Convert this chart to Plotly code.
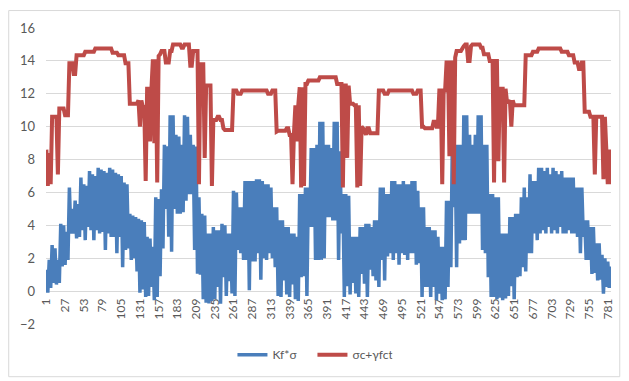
import plotly.graph_objects as go

# category tick labels shown on the x axis
tick_labels = [1, 27, 53, 79, 105, 131, 157, 183, 209, 235, 261, 287, 313, 339, 365,
               391, 417, 443, 469, 495, 521, 547, 573, 599, 625, 651, 677, 703, 729, 755, 781]

# sample positions (every second category)
x_vals = list(range(1, 786, 2))

# series "Kf*σ"
kf_sigma = [
    1.3, -0.1, 1.9, 0.2, 2.8, 0.5, 2.6, 0.4, 1.9, 0.5,
    4.1, 1.5, 4.0, 1.6, 3.6, 1.9, 6.3, 3.5, 5.0, 3.5,
    5.5, 3.2, 5.3, 3.3, 6.9, 3.7, 6.5, 3.1, 6.4, 3.9,
    7.3, 3.7, 7.1, 3.1, 7.0, 3.7, 7.5, 3.5, 7.4, 3.6,
    7.3, 2.5, 7.2, 3.5, 7.5, 3.3, 7.4, 3.3, 7.2, 2.3,
    7.1, 3.3, 7.0, 1.45, 6.6, 2.5, 6.5, 2.6, 4.7, 1.9,
    4.6, 2.0, 4.5, 1.2, 4.4, -0.1, 4.3, 0.1, 4.2, -0.35,
    3.3, -0.3, 3.2, 0.25, 2.7, -0.56, 5.7, -0.35, 5.6, 0.9,
    6.2, 2.6, 8.9, 5.0, 8.8, 3.3, 10.7, 2.4, 10.7, 5.0,
    9.5, 4.7, 9.4, 4.7, 8.9, 4.8, 10.7, 5.5, 10.6, 5.9,
    9.5, 5.9, 8.9, 2.5, 8.8, 1.05, 5.7, 1.0, 4.7, -0.5,
    4.6, -0.7, 3.5, -0.75, 3.5, -0.6, 3.9, -0.5, 3.7, 0.25,
    3.7, -0.76, 4.1, 0.85, 4.0, -0.3, 3.5, 0.6, 3.5, -0.15,
    6.1, -0.3, 6.0, 2.5, 5.1, 2.3, 5.1, 1.9, 6.7, 1.9,
    6.7, 0.05, 6.7, 1.8, 6.7, 1.8, 6.8, 2.3, 6.8, 0.7,
    6.7, 2.0, 6.5, 1.9, 6.5, 2.3, 6.3, 2.0, 5.1, 1.45,
    5.1, -0.3, 4.3, -0.35, 4.3, 0.65, 3.9, -0.2, 3.9, -0.35,
    3.5, 0.4, 3.5, -0.5, 3.3, -0.6, 5.9, 0.85, 5.9, 0.9,
    6.3, -0.3, 6.3, 3.9, 8.7, 3.9, 8.7, 1.9, 8.9, 1.9,
    10.3, 1.9, 10.3, 2.0, 8.9, 4.5, 8.9, 4.5, 8.7, 4.3,
    10.3, 4.3, 10.3, 1.9, 8.5, 3.5, 5.9, -0.35, 5.9, 0.3,
    5.8, -0.2, 3.3, 0.5, 3.3, -0.15, 3.3, -0.35, 3.9, 1.05,
    3.9, 0.45, 4.1, -0.35, 4.1, 1.3, 3.9, 0.9, 4.3, 0.65,
    4.3, 0.25, 6.3, 1.9, 6.3, 0.65, 5.9, 2.1, 5.9, 2.3,
    6.7, 1.9, 6.7, 2.3, 6.5, 1.6, 6.5, 2.3, 6.7, 2.2,
    6.5, 1.9, 6.5, 2.3, 6.7, 2.3, 6.7, 1.6, 6.1, 1.7,
    5.1, -0.35, 5.1, 0.25, 3.9, 0.25, 3.9, -0.35, 3.7, 0.25,
    3.7, -0.56, 3.3, -0.15, 2.7, -0.56, 2.7, -0.5, 5.5, 0.25,
    5.5, 1.45, 8.9, 5.1, 8.9, 1.45, 8.9, 2.9, 8.9, 3.1,
    10.7, 3.1, 10.7, 4.7, 9.5, 4.7, 8.9, 4.7, 9.5, 4.7,
    10.7, 4.7, 10.7, 2.5, 8.9, 2.3, 8.9, 0.85, 5.9, -0.35,
    5.9, -0.35, 5.7, -0.5, 5.7, -0.4, 3.5, -0.56, 3.5, -0.45,
    3.5, -0.3, 4.5, 0.3, 4.5, -0.5, 4.7, 0.85, 4.7, 0.9,
    5.7, 1.45, 6.3, 1.2, 5.7, 2.3, 7.1, 2.3, 6.7, 3.5,
    6.7, 3.1, 7.5, 3.5, 7.5, 3.7, 7.3, 3.5, 7.5, 3.9,
    7.1, 3.5, 7.5, 3.7, 7.3, 3.5, 7.1, 3.9, 7.3, 3.5,
    6.9, 3.5, 6.9, 3.7, 6.9, 3.5, 6.9, 3.5, 6.3, 3.3,
    6.3, 2.3, 6.3, 3.3, 4.3, 1.9, 4.3, 1.9, 3.9, 1.05,
    3.9, 1.1, 2.9, 0.65, 2.9, 0.7, 2.2, -0.15, 2.0, 0.25,
    1.8, 0.2, 1.5,
]

# series "σc+γfct"
sc_gfct = [
    8.6, 6.4, 8.4, 6.5, 10.6, 10.6, 10.6, 10.6, 7.1, 11.1,
    11.1, 11.1, 11.1, 10.7, 10.7, 10.7, 13.85, 13.85, 13.85, 13.2,
    13.2, 14.35, 14.35, 14.35, 14.35, 14.35, 14.35, 14.55, 14.55, 14.55,
    14.55, 14.55, 14.55, 14.55, 14.75, 14.75, 14.75, 14.75, 14.75, 14.75,
    14.75, 14.75, 14.75, 14.75, 14.75, 14.75, 14.5, 14.5, 14.5, 14.5,
    14.35, 14.35, 14.35, 14.35, 14.35, 13.85, 13.85, 13.85, 11.4, 11.4,
    11.4, 11.4, 11.4, 11.4, 11.6, 10.0, 11.6, 11.2, 11.2, 6.7,
    12.3, 12.3, 9.1, 12.3, 14.1, 9.0, 14.1, 6.6, 14.3, 14.4,
    14.6, 14.6, 14.6, 13.9, 13.9, 13.9, 14.6, 14.6, 15.0, 15.0,
    15.0, 15.0, 15.0, 15.0, 14.8, 14.8, 15.0, 15.0, 15.0, 15.0,
    13.7, 13.7, 14.6, 14.6, 14.6, 14.6, 6.5, 13.8, 13.8, 13.8,
    8.1, 12.5, 12.5, 12.5, 12.5, 6.4, 10.4, 10.4, 10.4, 10.6,
    10.6, 10.4, 10.4, 9.9, 9.8, 9.8, 9.8, 9.8, 9.8, 9.8,
    12.2, 12.2, 12.2, 12.0, 12.0, 12.0, 12.2, 12.2, 12.2, 12.2,
    12.2, 12.2, 12.2, 12.2, 12.2, 12.2, 12.2, 12.2, 12.2, 12.2,
    12.2, 12.2, 12.2, 12.2, 12.0, 12.0, 12.0, 12.2, 12.2, 12.2,
    9.7, 9.75, 9.75, 9.75, 9.75, 9.75, 9.75, 9.9, 9.9, 9.5,
    9.5, 6.5, 9.6, 11.3, 9.1, 11.3, 12.4, 6.3, 12.4, 6.4,
    12.6, 12.6, 12.8, 12.8, 12.8, 12.8, 12.8, 12.8, 12.8, 12.8,
    13.0, 13.0, 13.0, 13.0, 13.0, 13.0, 13.0, 13.0, 13.0, 13.0,
    13.0, 13.0, 12.6, 12.6, 12.6, 12.6, 6.3, 12.5, 12.5, 8.1,
    12.5, 11.4, 11.4, 11.4, 11.3, 11.3, 6.3, 11.3, 6.4, 10.0,
    9.9, 9.8, 9.5, 9.9, 9.9, 9.6, 9.6, 9.6, 9.6, 9.6,
    9.6, 12.2, 12.2, 12.2, 12.2, 12.0, 12.0, 12.0, 12.2, 12.2,
    12.2, 12.2, 12.2, 12.2, 12.2, 12.2, 12.2, 12.2, 12.2, 12.2,
    12.2, 12.2, 12.2, 12.2, 12.2, 12.0, 12.0, 12.0, 12.2, 12.2,
    12.2, 10.0, 10.0, 9.9, 9.9, 9.9, 9.9, 9.9, 9.9, 10.3,
    10.3, 10.0, 10.0, 12.2, 12.2, 6.5, 12.2, 12.2, 13.9, 13.9,
    8.2, 13.9, 13.9, 6.5, 14.2, 14.6, 14.6, 14.6, 14.6, 14.75,
    14.9, 15.0, 15.0, 14.0, 14.0, 14.9, 15.0, 15.0, 15.0, 15.0,
    15.0, 15.0, 14.8, 14.8, 14.4, 14.4, 14.4, 14.4, 14.0, 14.0,
    14.0, 6.6, 14.0, 14.0, 7.9, 12.3, 12.3, 12.3, 6.6, 12.3,
    11.5, 11.5, 11.6, 10.0, 11.6, 11.3, 11.3, 11.3, 11.3, 11.3,
    11.3, 11.3, 11.3, 14.35, 14.35, 14.35, 14.35, 14.35, 14.55, 14.55,
    14.55, 14.55, 14.75, 14.75, 14.75, 14.75, 14.75, 14.75, 14.75, 14.75,
    14.75, 14.75, 14.75, 14.75, 14.75, 14.75, 14.75, 14.75, 14.55, 14.55,
    14.55, 14.55, 14.55, 14.35, 14.35, 14.35, 14.35, 13.9, 13.9, 13.9,
    13.5, 13.5, 13.9, 13.9, 10.9, 10.9, 10.9, 10.9, 10.6, 10.6,
    10.6, 7.1, 10.6, 10.6, 10.6, 10.6, 10.6, 6.8, 10.6, 8.6,
    6.5, 8.6, 6.5,
]

if len(kf_sigma) != len(x_vals) or len(sc_gfct) != len(x_vals):
    raise ValueError(f"lengths x={len(x_vals)} blue={len(kf_sigma)} red={len(sc_gfct)}")

BLUE = "#4A7EBB"
RED = "#BE4B48"
GRID = "#D9D9D9"
TEXT = "#595959"

fig = go.Figure()
fig.add_trace(go.Scatter(x=x_vals, y=kf_sigma, mode="lines", name="Kf*σ",
                         line=dict(color=BLUE, width=3.5, simplify=False)))
fig.add_trace(go.Scatter(x=x_vals, y=sc_gfct, mode="lines", name="σc+γfct",
                         line=dict(color=RED, width=4, simplify=False)))

# the page body adds an 8px offset, so the figure is 8px smaller than the window
fig.update_layout(
    width=621, height=373,
    margin=dict(l=38, r=18, t=18, b=57),
    paper_bgcolor="white", plot_bgcolor="white",
    font=dict(family="Lato, 'Liberation Sans', sans-serif", size=12, color=TEXT),
    showlegend=True,
    legend=dict(orientation="h", x=0.33, xanchor="left", y=-0.104, yanchor="middle",
                entrywidth=35, entrywidthmode="pixels",
                font=dict(size=12, color=TEXT), bgcolor="rgba(0,0,0,0)"),
    xaxis=dict(range=[0.5, 785.5], tickmode="array", tickvals=tick_labels,
               ticktext=[str(t) for t in tick_labels], tickangle=-90,
               showgrid=False, zeroline=False, showline=False, ticks="",
               anchor="free", position=2 / 18, layer="below traces",
               tickfont=dict(size=12, color=TEXT), ticklabelstandoff=4),
    yaxis=dict(range=[-2, 16], tick0=0, dtick=2, showgrid=True, gridcolor=GRID,
               gridwidth=1, zeroline=False, showline=False, ticks="",
               tickfont=dict(size=13, color=TEXT), ticklabelstandoff=10),
)

fig.add_shape(type="rect", xref="paper", yref="paper",
              x0=-0.066, x1=1.0155, y0=-0.178, y1=1.059,
              line=dict(color=GRID, width=1), layer="below")

fig.write_html("out.html")
